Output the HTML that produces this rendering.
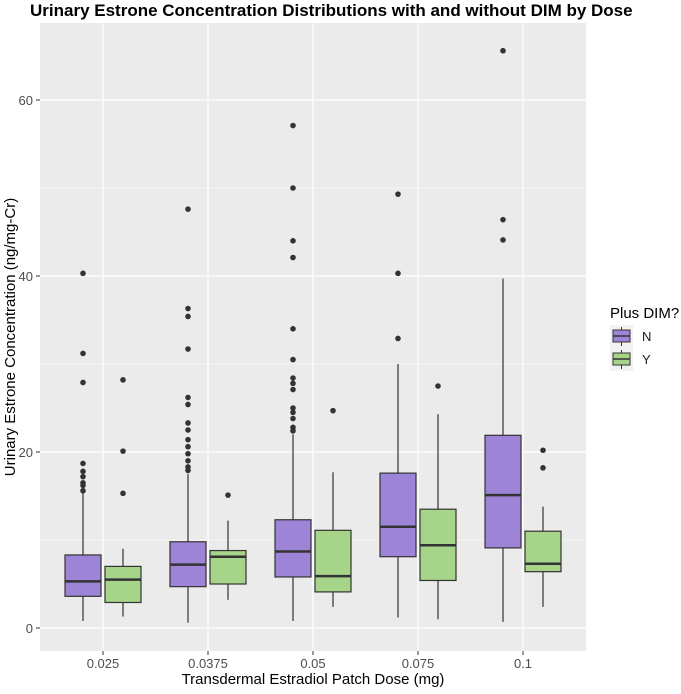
<!DOCTYPE html>
<html><head><meta charset="utf-8"><style>
body{margin:0;background:#fff;}
svg text{font-family:"Liberation Sans",Arial,sans-serif;}
</style></head><body>
<svg id="chart" width="681" height="689" xmlns="http://www.w3.org/2000/svg">
<text x="30" y="16" text-anchor="start" font-size="17" font-weight="bold" fill="#000">Urinary Estrone Concentration Distributions with and without DIM by Dose</text>
<rect x="40" y="23" width="546" height="628" fill="#ebebeb"/>
<g id="grid"></g>
<g id="marks"></g>
<g id="axes"></g>
<text transform="translate(15,337) rotate(-90)" text-anchor="middle" font-size="15" fill="#000">Urinary Estrone Concentration (ng/mg-Cr)</text>
<text x="313" y="684" text-anchor="middle" font-size="15" fill="#000">Transdermal Estradiol Patch Dose (mg)</text>
<g>
<text x="610" y="318" font-size="15" fill="#000">Plus DIM?</text>
<g>
<rect x="610" y="325" width="23" height="23" fill="#f2f2f2"/>
<line x1="621.5" y1="327" x2="621.5" y2="346" stroke="#333" stroke-width="1"/>
<rect x="613" y="330" width="17" height="12" fill="#9d84d6" stroke="#333" stroke-width="1"/>
<line x1="613" y1="336" x2="630" y2="336" stroke="#333" stroke-width="1.5"/>
<text x="642" y="341" font-size="13" fill="#1a1a1a">N</text>
</g>
<g>
<rect x="610" y="348" width="23" height="23" fill="#f2f2f2"/>
<line x1="621.5" y1="350" x2="621.5" y2="369" stroke="#333" stroke-width="1"/>
<rect x="613" y="353" width="17" height="12" fill="#a6d58a" stroke="#333" stroke-width="1"/>
<line x1="613" y1="359" x2="630" y2="359" stroke="#333" stroke-width="1.5"/>
<text x="642" y="364" font-size="13" fill="#1a1a1a">Y</text>
</g>
</g>
</svg>
<script>
const categories=["0.025","0.0375","0.05","0.075","0.1"];
const groups=["N","Y"];
const nStats=[[0.8,3.6,5.3,8.3,15.5],[0.6,4.7,7.2,9.8,17.5],[0.8,5.8,8.7,12.3,22.0],[1.2,8.1,11.5,17.6,30.0],[0.7,9.1,15.1,21.9,39.7]];
const yStats=[[1.3,2.9,5.5,7.0,9.0],[3.2,5.0,8.1,8.8,12.2],[2.4,4.1,5.9,11.1,17.7],[1.0,5.4,9.4,13.5,24.3],[2.4,6.4,7.3,11.0,13.8]];
const nOutliers=[[40.3,31.2,27.9,18.7,17.8,17.2,16.5,16.2,15.6],[47.6,36.3,35.4,31.7,26.2,25.4,23.3,22.5,21.4,20.6,19.8,19.0,18.3,17.9],[57.1,50.0,44.0,42.1,34.0,30.5,28.4,27.8,27.1,25.0,24.5,23.8,22.8,22.4],[49.3,40.3,32.9],[65.6,46.4,44.1]];
const yOutliers=[[28.2,20.1,15.3],[15.1],[24.7],[27.5],[20.2,18.2]];
const yTicks=[0,20,40,60];
const yMinor=[10,30,50];
const NS="http://www.w3.org/2000/svg";
const y=v=>628-v*8.8;
const x=i=>103+i*105;
function mk(tag,attrs,parent){const e=document.createElementNS(NS,tag);for(const k in attrs)e.setAttribute(k,attrs[k]);parent.appendChild(e);return e;}
const grid=document.getElementById('grid'),marks=document.getElementById('marks'),axes=document.getElementById('axes');
yMinor.forEach(t=>{const l=mk('line',{x1:40,x2:586,y1:y(t),y2:y(t),stroke:'#fff','stroke-width':0.6},grid);

});
yTicks.forEach(t=>{const l=mk('line',{x1:40,x2:586,y1:y(t),y2:y(t),stroke:'#fff','stroke-width':1.2},grid);


const tk=mk('line',{x1:36,x2:40,y1:y(t),y2:y(t),stroke:'#333','stroke-width':1},axes);


const tx=mk('text',{x:33,y:y(t)+5,'text-anchor':'end','font-size':13,fill:'#4d4d4d'},axes);tx.textContent=t;

});
categories.forEach((c,i)=>{const l=mk('line',{x1:x(i),x2:x(i),y1:23,y2:651,stroke:'#fff','stroke-width':1.2},grid);


const tk=mk('line',{x1:x(i),x2:x(i),y1:651,y2:655,stroke:'#333','stroke-width':1},axes);


const tx=mk('text',{x:x(i),y:668,'text-anchor':'middle','font-size':13,fill:'#4d4d4d'},axes);tx.textContent=c;

});
function box(i,st,outs,off,fill,g){
const cx=x(i)+off,w=36;
const grp=mk('g',{},marks);


mk('line',{x1:cx,x2:cx,y1:y(st[0]),y2:y(st[1]),stroke:'#333','stroke-width':1.2},grp);
mk('line',{x1:cx,x2:cx,y1:y(st[3]),y2:y(st[4]),stroke:'#333','stroke-width':1.2},grp);
mk('rect',{x:cx-w/2,y:y(st[3]),width:w,height:y(st[1])-y(st[3]),fill:fill,stroke:'#333','stroke-width':1.2},grp);
mk('line',{x1:cx-w/2,x2:cx+w/2,y1:y(st[2]),y2:y(st[2]),stroke:'#333','stroke-width':2.5},grp);
outs.forEach(o=>{const p=mk('circle',{cx:cx,cy:y(o),r:2.8,fill:'#333'},marks);

});
}
categories.forEach((c,i)=>{box(i,nStats[i],nOutliers[i],-20,'#9d84d6','N');box(i,yStats[i],yOutliers[i],20,'#a6d58a','Y');});
</script>
</body></html>
